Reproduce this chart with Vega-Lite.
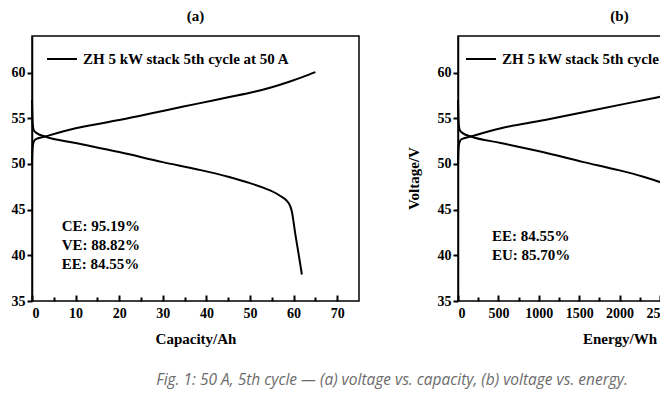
{
  "$schema": "https://vega.github.io/schema/vega-lite/v6.json",
  "background": "white",
  "padding": {"left": 10, "top": 8, "right": 0, "bottom": 0},
  "title": {
    "text": "Fig. 1: 50 A, 5th cycle — (a) voltage vs. capacity, (b) voltage vs. energy.",
    "orient": "bottom",
    "anchor": "start",
    "dx": 146,
    "offset": 26,
    "font": "Open Sans",
    "fontStyle": "italic",
    "fontWeight": "normal",
    "fontSize": 15.5,
    "color": "#6c6c6c"
  },
  "datasets": {
    "capacity": [
      {"phase": "charge", "capacity": 0, "voltage": 50.0},
      {"phase": "charge", "capacity": 0.1, "voltage": 51.5},
      {"phase": "charge", "capacity": 0.3, "voltage": 52.3},
      {"phase": "charge", "capacity": 0.8, "voltage": 52.7},
      {"phase": "charge", "capacity": 3, "voltage": 53.0},
      {"phase": "charge", "capacity": 10, "voltage": 53.9},
      {"phase": "charge", "capacity": 20, "voltage": 54.8},
      {"phase": "charge", "capacity": 30, "voltage": 55.8},
      {"phase": "charge", "capacity": 38, "voltage": 56.6},
      {"phase": "charge", "capacity": 45, "voltage": 57.3},
      {"phase": "charge", "capacity": 51, "voltage": 57.9},
      {"phase": "charge", "capacity": 55, "voltage": 58.4},
      {"phase": "charge", "capacity": 59, "voltage": 59.0},
      {"phase": "charge", "capacity": 62, "voltage": 59.5},
      {"phase": "charge", "capacity": 65, "voltage": 60.05},
      {"phase": "discharge", "capacity": 0, "voltage": 57.0},
      {"phase": "discharge", "capacity": 0.15, "voltage": 54.5},
      {"phase": "discharge", "capacity": 0.4, "voltage": 53.7},
      {"phase": "discharge", "capacity": 1, "voltage": 53.4},
      {"phase": "discharge", "capacity": 3, "voltage": 53.0},
      {"phase": "discharge", "capacity": 10, "voltage": 52.3},
      {"phase": "discharge", "capacity": 20, "voltage": 51.3},
      {"phase": "discharge", "capacity": 30, "voltage": 50.2},
      {"phase": "discharge", "capacity": 38, "voltage": 49.4},
      {"phase": "discharge", "capacity": 45, "voltage": 48.6},
      {"phase": "discharge", "capacity": 50, "voltage": 47.9},
      {"phase": "discharge", "capacity": 53, "voltage": 47.4},
      {"phase": "discharge", "capacity": 56.6, "voltage": 46.6},
      {"phase": "discharge", "capacity": 58.9, "voltage": 45.7},
      {"phase": "discharge", "capacity": 59.6, "voltage": 44.8},
      {"phase": "discharge", "capacity": 60.4, "voltage": 42.3},
      {"phase": "discharge", "capacity": 61.2, "voltage": 40.0},
      {"phase": "discharge", "capacity": 61.9, "voltage": 37.9}
    ],
    "energy": [
      {"phase": "charge", "energy": 0, "voltage": 50.0},
      {"phase": "charge", "energy": 5, "voltage": 51.5},
      {"phase": "charge", "energy": 16, "voltage": 52.3},
      {"phase": "charge", "energy": 42, "voltage": 52.7},
      {"phase": "charge", "energy": 158, "voltage": 53.0},
      {"phase": "charge", "energy": 532, "voltage": 53.9},
      {"phase": "charge", "energy": 1076, "voltage": 54.8},
      {"phase": "charge", "energy": 1629, "voltage": 55.8},
      {"phase": "charge", "energy": 2079, "voltage": 56.6},
      {"phase": "charge", "energy": 2478, "voltage": 57.3},
      {"phase": "charge", "energy": 2824, "voltage": 57.9},
      {"phase": "charge", "energy": 3056, "voltage": 58.4},
      {"phase": "charge", "energy": 3291, "voltage": 59.0},
      {"phase": "charge", "energy": 3469, "voltage": 59.5},
      {"phase": "charge", "energy": 3648, "voltage": 60.05},
      {"phase": "discharge", "energy": 0, "voltage": 57.0},
      {"phase": "discharge", "energy": 8, "voltage": 54.5},
      {"phase": "discharge", "energy": 22, "voltage": 53.7},
      {"phase": "discharge", "energy": 54, "voltage": 53.4},
      {"phase": "discharge", "energy": 161, "voltage": 53.0},
      {"phase": "discharge", "energy": 529, "voltage": 52.3},
      {"phase": "discharge", "energy": 1047, "voltage": 51.3},
      {"phase": "discharge", "energy": 1555, "voltage": 50.2},
      {"phase": "discharge", "energy": 1953, "voltage": 49.4},
      {"phase": "discharge", "energy": 2296, "voltage": 48.6},
      {"phase": "discharge", "energy": 2537, "voltage": 47.9},
      {"phase": "discharge", "energy": 2680, "voltage": 47.4},
      {"phase": "discharge", "energy": 2849, "voltage": 46.6},
      {"phase": "discharge", "energy": 2955, "voltage": 45.7},
      {"phase": "discharge", "energy": 2987, "voltage": 44.8},
      {"phase": "discharge", "energy": 3022, "voltage": 42.3},
      {"phase": "discharge", "energy": 3055, "voltage": 40.0},
      {"phase": "discharge", "energy": 3082, "voltage": 37.9}
    ],
    "notes_a": [{"label": "CE: 95.19%\nVE: 88.82%\nEE: 84.55%"}],
    "notes_b": [{"label": "EE: 84.55%\nEU: 85.70%"}]
  },
  "spacing": 45,
  "hconcat": [
    {
      "width": 327,
      "height": 265,
      "title": {"text": "(a)", "offset": 12},
      "resolve": {"axis": {"x": "independent"}},
      "layer": [
        {
          "data": {"name": "capacity"},
          "mark": {"type": "line", "strokeWidth": 2, "interpolate": "monotone"},
          "encoding": {
            "x": {
              "field": "capacity", "type": "quantitative",
              "scale": {"domain": [0, 75], "nice": false},
              "axis": {
                "title": "Capacity/Ah",
                "orient": "bottom",
                "values": [0, 10, 20, 30, 40, 50, 60, 70],
                "offset": -6,
                "domain": false,
                "tickSize": 6,
                "labelPadding": 5,
                "titlePadding": 11
              }
            },
            "y": {
              "field": "voltage", "type": "quantitative",
              "scale": {"domain": [35, 64], "nice": false},
              "axis": {"title": null, "values": [35, 40, 45, 50, 55, 60]}
            },
            "color": {
              "datum": "ZH 5 kW stack 5th cycle at 50 A",
              "scale": {"range": ["black"]},
              "legend": {"orient": "none", "legendX": 14, "legendY": 7}
            },
            "detail": {"field": "phase"}
          }
        },
        {
          "data": {"name": "notes_a"},
          "mark": {"type": "text", "align": "left", "baseline": "top", "lineBreak": "\n", "lineHeight": 19, "font": "Liberation Serif", "fontWeight": "bold", "fontSize": 15, "color": "black"},
          "encoding": {
            "x": {
              "datum": 6.8, "type": "quantitative",
              "axis": {"orient": "bottom", "title": null, "labels": false, "domain": false, "values": [5, 15, 25, 35, 45, 55, 65], "tickSize": -4}
            },
            "y": {"datum": 44.0, "type": "quantitative"},
            "text": {"field": "label"}
          }
        }
      ]
    },
    {
      "width": 323,
      "height": 265,
      "title": {"text": "(b)", "offset": 12},
      "resolve": {"axis": {"x": "independent"}},
      "layer": [
        {
          "data": {"name": "energy"},
          "mark": {"type": "line", "strokeWidth": 2, "interpolate": "monotone"},
          "encoding": {
            "x": {
              "field": "energy", "type": "quantitative",
              "scale": {"domain": [0, 4000], "nice": false},
              "axis": {
                "title": "Energy/Wh",
                "orient": "bottom",
                "format": "d",
                "values": [0, 500, 1000, 1500, 2000, 2500, 3000, 3500],
                "offset": -6,
                "domain": false,
                "tickSize": 6,
                "labelPadding": 5,
                "titlePadding": 11
              }
            },
            "y": {
              "field": "voltage", "type": "quantitative",
              "scale": {"domain": [35, 64], "nice": false},
              "axis": {"title": "Voltage/V", "values": [35, 40, 45, 50, 55, 60], "titlePadding": 16, "titleY": 142}
            },
            "color": {
              "datum": "ZH 5 kW stack 5th cycle at 50 A",
              "scale": {"range": ["black"]},
              "legend": {"orient": "none", "legendX": 7, "legendY": 7}
            },
            "detail": {"field": "phase"}
          }
        },
        {
          "data": {"name": "notes_b"},
          "mark": {"type": "text", "align": "left", "baseline": "top", "lineBreak": "\n", "lineHeight": 19, "font": "Liberation Serif", "fontWeight": "bold", "fontSize": 15, "color": "black"},
          "encoding": {
            "x": {
              "datum": 420, "type": "quantitative",
              "axis": {"orient": "bottom", "title": null, "labels": false, "domain": false, "values": [250, 750, 1250, 1750, 2250, 2750, 3250, 3750], "tickSize": -4}
            },
            "y": {"datum": 42.9, "type": "quantitative"},
            "text": {"field": "label"}
          }
        }
      ]
    }
  ],
  "resolve": {"scale": {"color": "independent", "y": "independent"}, "legend": {"color": "independent"}},
  "config": {
    "view": {"stroke": "black", "strokeWidth": 1.5},
    "title": {"font": "Liberation Serif", "fontWeight": "bold", "fontSize": 15, "color": "black"},
    "axis": {
      "grid": false,
      "domainColor": "black",
      "domainWidth": 1.5,
      "tickColor": "black",
      "tickWidth": 2,
      "tickSize": 5,
      "labelPadding": 2,
      "labelFont": "Liberation Serif",
      "labelFontWeight": "bold",
      "labelFontSize": 14,
      "labelColor": "black",
      "titleFont": "Liberation Serif",
      "titleFontWeight": "bold",
      "titleFontSize": 15,
      "titleColor": "black"
    },
    "legend": {
      "title": null,
      "padding": 0,
      "symbolType": "stroke",
      "symbolSize": 900,
      "symbolStrokeWidth": 2,
      "symbolStrokeColor": "black",
      "labelOffset": 5,
      "labelFont": "Liberation Serif",
      "labelFontWeight": "bold",
      "labelFontSize": 15,
      "labelColor": "black",
      "labelLimit": 400
    }
  }
}
